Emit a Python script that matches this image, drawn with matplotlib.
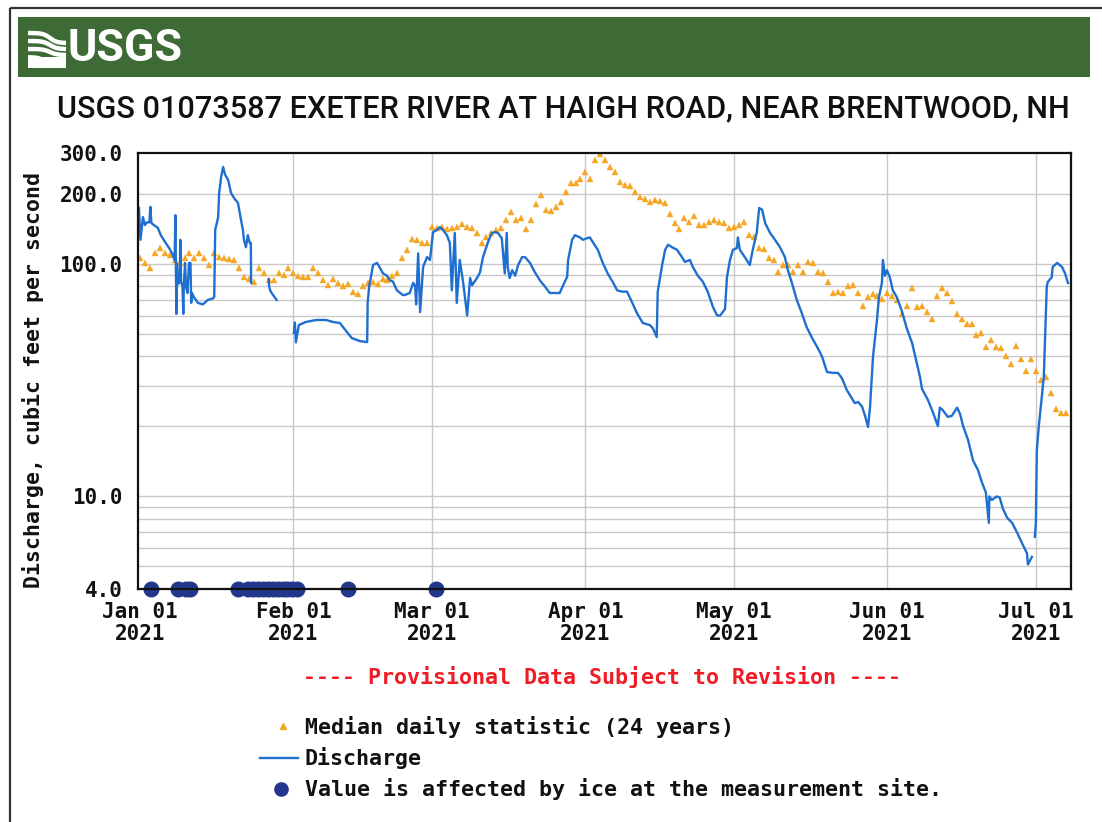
import numpy as np
import matplotlib
matplotlib.use("Agg")
import matplotlib.pyplot as plt
from matplotlib.ticker import NullLocator, NullFormatter

# ---------------- data ----------------
# Median daily statistic (24 years), one value per day starting Jan 01 2021 (cfs)
median_cfs = [
    106, 101, 96, 111, 117, 111, 109, 104, 101, 106,
    111, 106, 111, 106, 99, 111, 107, 106, 105, 104,
    96, 88, 86, 84, 96, 91, 85, 85, 91, 90,
    96, 91, 89, 88, 88, 96, 91, 85, 81, 86,
    83, 80, 82, 76, 74, 80, 83, 84, 82, 86,
    85, 89, 91, 106, 115, 128, 127, 123, 123, 144,
    143, 144, 141, 143, 144, 148, 144, 143, 136, 123,
    130, 136, 140, 143,
    155, 167, 155, 158, 141, 155, 181, 198, 171, 169,
    176, 185, 204, 223, 223, 232, 249, 232, 280, 297,
    280, 261, 249, 225, 218, 216, 204, 194, 190, 185,
    188, 186, 183, 164, 150, 141, 158, 151, 161, 147,
    147, 151, 154, 151, 150, 143, 144, 147, 151, 133,
    130, 117, 116, 106, 104, 92, 99, 99, 92, 99,
    92, 102, 101, 92, 91, 84, 75, 76, 75, 80,
    81, 75, 66, 72, 74, 73, 71, 75, 73, 70,
    61, 66, 79, 65, 66, 62, 58, 73, 79, 75,
    69, 61, 58, 55, 55, 49.5, 50.6, 44, 47, 44,
    43.4, 40, 37, 44.3, 39, 34.7, 39, 34.7, 31.7, 32.6,
    27.9, 23.8, 22.9, 22.9,
]
median_day = list(range(len(median_cfs)))

# Discharge (days since Jan 01 2021, cfs); NaN marks gaps in the record
q_day = [
    -0.2, 0.1, 0.6, 1.0, 1.4, 1.9, 2.1, 2.3, 2.8, 3.6, 4.2, 5.1, 5.9, 6.5, 7.0,
    7.15, 7.25, 7.35, 7.45, 7.7, 8.0, 8.15, 8.3, 8.6, 8.75, 8.85, 9.1, 9.3, 9.6,
    9.9, 10.2, 10.35, 10.5, 10.9, 11.7, 12.7, 13.7, 14.7, 15.0, 15.2, 15.8, 16.0,
    16.4, 16.8, 17.2, 17.8, 18.4, 19.0, 19.8, 20.4, 20.8, 21.0, 21.4, 21.8, 22.0,
    22.2, 22.4, 22.45, 22.5,
    26.0, 26.1, 26.3, 26.6, 27.0, 27.4, 27.6, 27.7,
    31.1, 31.3, 31.5, 31.8, 32.1, 33.5, 35.6, 37.6, 39.0, 40.4, 41.8, 42.8, 43.8,
    44.4, 45.9, 46.0, 46.3, 47.1, 47.9, 48.5, 49.1, 49.9, 50.5, 51.1, 51.9, 53.1,
    53.5, 54.5, 55.2, 55.6, 55.8, 56.2, 56.6, 57.2, 58.0, 58.6, 59.2, 60.0, 60.6,
    61.2, 62.0, 62.6, 63.0, 63.6, 64.0, 64.6, 65.3, 66.1, 66.7, 67.1, 68.1, 68.7,
    69.3, 70.3, 71.1, 71.7, 72.3, 73.1, 73.3, 73.7, 74.1, 74.3, 74.7, 75.2, 75.8,
    76.4, 77.2, 77.8, 78.8, 79.8, 80.8, 81.8, 82.8, 83.8, 84.8, 85.5, 86.3, 86.5,
    87.3, 87.9, 88.9, 89.5, 90.3, 90.9, 91.5, 92.5, 93.5, 94.5, 95.6, 96.4, 97.4,
    98.4, 99.2, 100.4, 101.6, 103.0, 103.6, 104.4, 104.6, 105.5, 106.1, 106.7,
    107.5, 108.5, 109.5, 110.1, 111.1, 111.7, 112.7, 113.7, 114.7, 115.8, 116.6,
    117.2, 117.6, 118.2, 118.6, 119.2, 119.8, 120.6, 120.8, 121.2, 122.2, 123.2,
    123.8, 124.6, 125.1, 125.7, 126.3, 127.3, 128.3, 129.3, 130.3, 130.9, 131.7,
    132.7, 133.7, 134.7, 135.8, 136.8, 137.8, 138.8, 140.0, 141.0, 141.8, 142.8,
    143.8, 144.4, 145.1, 145.9, 146.5, 147.1, 147.5, 148.1, 148.9, 149.3, 149.9,
    150.1, 150.5, 150.9, 151.5, 152.1, 152.9, 153.9, 154.9, 156.0, 157.0, 157.6,
    158.0, 159.2, 160.2, 161.2, 161.6, 162.2, 163.2, 164.0, 165.1, 165.7, 166.3,
    167.3, 168.3, 169.3, 170.1, 170.9, 171.5, 171.6, 172.1, 173.1, 173.7, 174.3,
    175.2, 176.2, 177.2, 178.2, 179.2, 179.4, 180.2, 180.5,
    180.8, 181.0, 181.2, 181.6, 182.2, 182.6, 183.2, 183.4, 184.2, 184.4, 185.3,
    186.3, 186.9, 187.5,
]
q_cfs = [
    174, 127, 159, 147, 151, 151, 176, 150, 147, 143, 133, 124, 117, 111, 104,
    162, 104, 61, 100, 82, 84, 127, 84, 80, 61, 80, 101, 80, 75,
    101, 101, 68, 75, 72, 68, 67, 70, 71, 72, 140, 159, 202,
    237, 261, 242, 230, 202, 192, 183, 155, 140, 127, 118, 133, 127,
    123, 123, 83, np.nan,
    86, 80, 77, 75, 73, 71, 70, np.nan,
    50.5, 56, 46, 50, 54.6, 56.3, 57.4, 57.4, 56.3, 55.7, 51, 48, 47.1,
    46.6, 46.1, 68, 80, 99, 101, 96, 91, 89, 85, 84, 77, 73.5,
    73.5, 75, 83, 80, 67, 111, 62, 97, 107, 104, 137, 140, 144,
    140, 133, 123, 77, 136, 68, 104, 83, 60, 87, 81, 87, 92,
    107, 124, 136, 137, 136, 129, 115, 91, 136, 97, 87, 94, 89,
    99, 107, 107, 101, 92, 85, 80, 75, 75, 75, 81, 88, 104,
    127, 133, 130, 127, 129, 130, 124, 115, 101, 91, 83, 77, 76,
    76, 70, 61.5, 55.7, 54.6, 53, 48.5, 76, 99, 115, 121,
    118, 115, 107, 102, 104, 97, 89, 84, 76, 65, 60,
    60, 61.5, 64, 88, 104, 115, 117, 130, 115, 107, 99,
    115, 136, 174, 171, 150, 136, 127, 118, 107, 94, 83,
    70, 61.5, 53.5, 48, 44, 40, 34.3, 34, 34, 32.3, 28.7,
    26.5, 25.2, 25.5, 24.3, 22.2, 19.9, 24.3, 40, 57.4, 72, 83,
    104, 89, 94, 87.6, 77, 72, 63, 53, 45.7, 37, 32.6,
    29.0, 26.0, 23.0, 20.1, 24.1, 23.5, 22.0, 22.2, 24.1, 22.6, 20.1,
    17.5, 14.3, 13.0, 11.5, 10.4, 7.7, 10.0, 9.66, 10.0, 9.9, 8.9,
    8.1, 7.7, 7.0, 6.3, 5.7, 5.1, 5.5, np.nan,
    6.7, 7.7, 15.8, 20.1, 26.8, 32.6, 79.6, 83.6, 87.6, 97, 101,
    97, 91, 82.8,
]

# Ice-affected values, plotted along the bottom of the graph
ice_day = [2.2, 7.7, 9.3, 10.1, 19.8, 21.8, 22.8, 23.8, 24.8, 25.8, 26.8,
           27.8, 28.8, 29.8, 30.8, 31.8, 42.0, 59.8]
ice_cfs = [4.0] * len(ice_day)

tick_days = [0, 31, 59, 90, 120, 151, 181]
tick_labels = ["Jan 01\n2021", "Feb 01\n2021", "Mar 01\n2021", "Apr 01\n2021",
               "May 01\n2021", "Jun 01\n2021", "Jul 01\n2021"]
y_ticks = [4, 10, 100, 200, 300]
y_tick_labels = ["4.0", "10.0", "100.0", "200.0", "300.0"]
grid_vals = [5, 6, 7, 8, 9, 10, 20, 30, 40, 50, 60, 70, 80, 90, 100, 200]

title = "USGS 01073587 EXETER RIVER AT HAIGH ROAD, NEAR BRENTWOOD, NH"
legend_labels = ["Median daily statistic (24 years)", "Discharge",
                 "Value is affected by ice at the measurement site."]
provisional = "---- Provisional Data Subject to Revision ----"

# ---------------- styling ----------------
W, H = 1102, 822
MONO = "DejaVu Sans Mono"
FS = 15
C_Q = "#1f6fd0"
C_MED = "#f5a623"
C_ICE = "#22378c"
C_GRID = "#c9c9c9"
C_GREEN = "#3e6b35"

fig = plt.figure(figsize=(W / 100, H / 100), dpi=100)
fig.patch.set_facecolor("white")

# overlay in pixel coordinates for header / border / legend
ov = fig.add_axes([0, 0, 1, 1], zorder=0)
ov.set_xlim(0, W)
ov.set_ylim(H, 0)
ov.axis("off")

# border
ov.plot([10, 10], [8, H], color="#333333", lw=1.6, solid_capstyle="butt")
ov.plot([10, W], [8, 8], color="#333333", lw=1.6, solid_capstyle="butt")

# header bar
ov.add_patch(plt.Rectangle((18, 17), 1072, 60, facecolor=C_GREEN, edgecolor="none"))

# logo icon (stylised waves)
xs = np.linspace(28, 66, 60)
for k, y0 in enumerate([33, 41, 49]):
    ys = y0 + (10 - 2 * k) / (1 + np.exp(-(xs - 50) / 3.5))
    ov.plot(xs, ys, color="white", lw=3.2, solid_capstyle="butt")
poly_x = np.concatenate([xs, [66, 28]])
poly_y = np.concatenate([57 + 9 / (1 + np.exp(-(xs - 46) / 3.5)) - 2, [68, 68]])
ov.fill(poly_x, poly_y, color="white", lw=0)
ov.add_patch(plt.Rectangle((28, 57), 38, 11, facecolor="white", edgecolor="none"))

logo = ov.text(68, 49, "USGS", color="white", fontweight="bold",
               family=["Liberation Sans Narrow", "Roboto", "DejaVu Sans"],
               fontsize=36, ha="left", va="center")

ttl = ov.text(57, 109, title, ha="left", va="center",
              family=["Roboto", "Liberation Sans", "DejaVu Sans"],
              fontweight="medium", fontsize=22, color="#111111")

# fit a few texts to their measured widths
fig.canvas.draw()
r = fig.canvas.get_renderer()
for t, target in [(logo, 115), (ttl, 1011)]:
    w = t.get_window_extent(r).width
    t.set_fontsize(t.get_fontsize() * target / w)

# ---------------- main axes ----------------
L, R, T, B = 138, 1071, 153, 589
ax = fig.add_axes([L / W, 1 - B / H, (R - L) / W, (B - T) / H], zorder=2)
ax.set_facecolor("white")
ax.set_yscale("log")
ax.set_ylim(4, 300)
ax.set_xlim(-0.4, 188.1)

for v in grid_vals:
    ax.axhline(v, color=C_GRID, lw=1.0, zorder=0)
for d in tick_days[1:]:
    ax.axvline(d, color=C_GRID, lw=1.0, zorder=0)

ax.plot(median_day, median_cfs, linestyle="none", marker="^", ms=4.2,
        color=C_MED, mec=C_MED, mew=0.3, zorder=3)
ax.plot(q_day, q_cfs, color=C_Q, lw=1.7, zorder=4)
ax.plot(ice_day, ice_cfs, linestyle="none", marker="o", ms=10.5, color=C_ICE,
        zorder=5, clip_on=False)

ax.set_yticks(y_ticks)
ax.set_yticklabels(y_tick_labels)
ax.yaxis.set_minor_locator(NullLocator())
ax.yaxis.set_minor_formatter(NullFormatter())
ax.set_xticks(tick_days)
ax.set_xticklabels(tick_labels, linespacing=1.15)
ax.tick_params(axis="both", length=0, labelsize=FS)
ax.tick_params(axis="y", pad=11)
ax.tick_params(axis="x", pad=9)
for lab in ax.get_xticklabels() + ax.get_yticklabels():
    lab.set_family(MONO)
    lab.set_fontweight("bold")
    lab.set_color("#111111")
for s in ax.spines.values():
    s.set_linewidth(1.6)
    s.set_color("#111111")
    s.set_zorder(6)

# y label
ov.text(33, 380, "Discharge, cubic feet per second", rotation=90, ha="center",
        va="center", family=MONO, fontweight="bold", fontsize=FS + 0.5, color="#111111")

# provisional note
ov.text(602, 677, provisional, ha="center", va="center", family=MONO,
        fontweight="bold", fontsize=FS + 0.6, color="#ee1c24")

# legend
ov.plot([283], [726], marker="^", ms=4.2, color=C_MED, linestyle="none")
ov.plot([260, 298], [758, 758], color=C_Q, lw=1.7)
ov.plot([281], [789], marker="o", ms=9.5, color=C_ICE, linestyle="none")
for lab, y in zip(legend_labels, [727, 758, 789]):
    ov.text(305, y, lab, ha="left", va="center", family=MONO, fontweight="bold",
            fontsize=FS + 0.6, color="#111111")

fig.savefig("out.png", dpi=100)
